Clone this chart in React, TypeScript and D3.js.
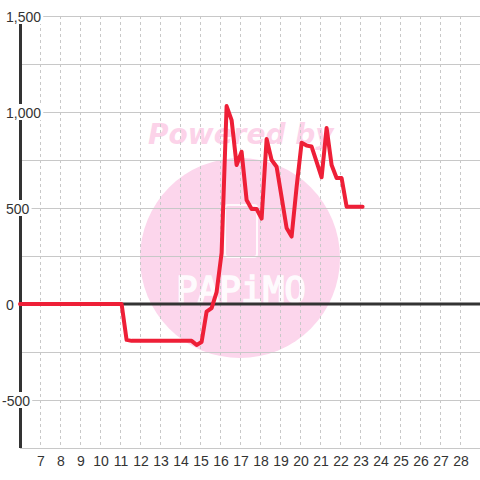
import React, { useEffect, useRef } from "react";
import * as d3 from "d3";

const xValues = [6, 11.08, 11.33, 11.58, 14.58, 14.83, 15.08, 15.33, 15.58, 15.83, 16.08, 16.33, 16.58, 16.83, 17.08, 17.33, 17.58, 17.83, 18.08, 18.33, 18.58, 18.83, 19.08, 19.33, 19.58, 19.83, 20.08, 20.33, 20.58, 20.83, 21.08, 21.33, 21.58, 21.83, 22.08, 22.33, 23.13];
const yValues = [0, 0, -187, -192, -192, -213, -198, -40, -21, 62, 265, 1031, 958, 724, 793, 542, 495, 495, 445, 859, 750, 715, 557, 396, 351, 609, 840, 825, 820, 740, 660, 917, 724, 656, 656, 507, 507];
const xTicks = [7, 8, 9, 10, 11, 12, 13, 14, 15, 16, 17, 18, 19, 20, 21, 22, 23, 24, 25, 26, 27, 28];
const yGrid = [-750, -500, -250, 0, 250, 500, 750, 1000, 1250, 1500];
const yLabels = [-500, 0, 500, 1000, 1500];

const W = 480;
const H = 480;

export default function App() {
  const ref = useRef<SVGSVGElement | null>(null);

  useEffect(() => {
    const svg = d3.select(ref.current);
    svg.selectAll("*").remove();
    const x = d3.scaleLinear().domain([6, 29]).range([20, 480]);
    const y = d3.scaleLinear().domain([-750, 1500]).range([448, 16]);

    svg.append("rect").attr("width", W).attr("height", H).attr("fill", "#ffffff");

    // watermark
    const wm = svg.append("g");
    wm.append("circle").attr("cx", 240).attr("cy", 258).attr("r", 100).attr("fill", "#fcd6ec");
    wm.append("text")
      .attr("x", 148).attr("y", 144)
      .attr("font-family", "DejaVu Sans")
      .attr("font-weight", "bold").attr("font-style", "italic")
      .attr("font-size", 28).attr("fill", "#fcd3e9")
      .text("Powered by");
    wm.append("rect").attr("x", 225).attr("y", 205).attr("width", 32).attr("height", 52)
      .attr("rx", 3).attr("fill", "none").attr("stroke", "#ffffff").attr("stroke-width", 2).attr("opacity", 0.85);
    wm.append("text")
      .attr("x", 241).attr("y", 302)
      .attr("text-anchor", "middle")
      .attr("font-family", "DejaVu Sans Mono")
      .attr("font-size", 36).attr("fill", "#ffffff")
      .attr("stroke", "#ffffff").attr("stroke-width", 1.5).attr("opacity", 0.9)
      .text("PAPiMO");

    // grid
    const grid = svg.append("g");
    grid.selectAll("line.h").data(yGrid).join("line")
      .attr("x1", 20).attr("x2", 480)
      .attr("y1", (d) => y(d) + 0.5).attr("y2", (d) => y(d) + 0.5)
      .attr("stroke", "#c8c8c8").attr("stroke-width", 1);
    grid.selectAll("line.v").data(xTicks).join("line")
      .attr("x1", (d) => x(d) + 0.5).attr("x2", (d) => x(d) + 0.5)
      .attr("y1", 16).attr("y2", 448)
      .attr("stroke", "#c8c8c8").attr("stroke-width", 1).attr("stroke-dasharray", "3,3");

    // zero line
    svg.append("line").attr("x1", 20).attr("x2", 480).attr("y1", y(0)).attr("y2", y(0))
      .attr("stroke", "#333333").attr("stroke-width", 3);
    // y axis
    svg.append("line").attr("x1", 20.5).attr("x2", 20.5).attr("y1", 16).attr("y2", 448)
      .attr("stroke", "#333333").attr("stroke-width", 3);

    // y labels with background boxes
    const fmt = (v: number) => d3.format(",")(v).replace("\u2212", "-");
    const lg = svg.append("g");
    yLabels.forEach((v) => {
      const g = lg.append("g");
      const bg = g.append("rect").attr("fill", "#ffffff");
      const t = g.append("text")
        .attr("x", v < 0 ? 2 : 6).attr("y", y(v) + 5.5)
        .attr("font-family", "Liberation Sans, Arial, sans-serif")
        .attr("font-size", 14).attr("fill", "#333333")
        .text(fmt(v));
      const b = (t.node() as SVGTextElement).getBBox();
      bg.attr("x", b.x - 1).attr("y", y(v) - 8).attr("width", b.width + 3).attr("height", 16);
    });

    // x labels
    svg.append("g").selectAll("text").data(xTicks).join("text")
      .attr("x", (d) => x(d) + 1).attr("y", 466)
      .attr("text-anchor", "middle")
      .attr("font-family", "Liberation Sans, Arial, sans-serif")
      .attr("font-size", 14).attr("fill", "#333333")
      .text((d) => String(d));

    // series line
    const pts = xValues.map((xv, i) => [xv, yValues[i]] as [number, number]);
    const line = d3.line<[number, number]>().x((d) => x(d[0])).y((d) => y(d[1]));
    svg.append("path").attr("d", line(pts) as string)
      .attr("fill", "none").attr("stroke", "#ee1f37").attr("stroke-width", 4)
      .attr("stroke-linejoin", "round").attr("stroke-linecap", "round");
  }, []);

  return (
    <svg ref={ref} width={W} height={H} style={{ position: "absolute", left: 0, top: 0 }} />
  );
}
